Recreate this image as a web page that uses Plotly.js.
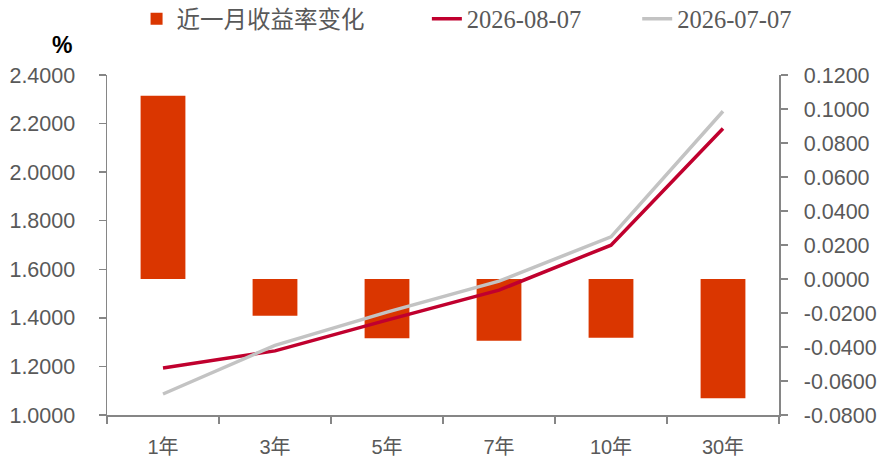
<!DOCTYPE html>
<html>
<head>
<meta charset="utf-8">
<script src="https://cdn.plot.ly/plotly-3.0.1.min.js"></script>
<style>html,body{margin:0;padding:0;background:#fff;}#chart{width:885px;height:465px;}</style>
</head>
<body>
<div id="chart"></div>
<script>
const categories = ['1年', '3年', '5年', '7年', '10年', '30年'];
const changeValues = [0.1078, -0.0216, -0.0349, -0.0363, -0.0345, -0.0702];
const yield0807 = [1.1934, 1.2640, 1.3908, 1.5142, 1.6994, 2.1795];
const yield0707 = [1.0864, 1.2870, 1.4237, 1.5513, 1.7335, 2.2507];
const leftTickVals = [1.0, 1.2, 1.4, 1.6, 1.8, 2.0, 2.2, 2.4];
const leftTickText = ['1.0000', '1.2000', '1.4000', '1.6000', '1.8000', '2.0000', '2.2000', '2.4000'];
const rightTickVals = [-0.08, -0.06, -0.04, -0.02, 0, 0.02, 0.04, 0.06, 0.08, 0.10, 0.12];
const rightTickText = ['-0.0800', '-0.0600', '-0.0400', '-0.0200', '0.0000', '0.0200', '0.0400', '0.0600', '0.0800', '0.1000', '0.1200'];

const traces = [
  {
    type: 'bar', name: '近一月收益率变化', x: categories, y: changeValues,
    yaxis: 'y', marker: {color: '#DA3600'}, width: 0.4, legend: 'legend'
  },
  {
    type: 'scatter', mode: 'lines', name: '2026-08-07', x: categories, y: yield0807,
    yaxis: 'y2', line: {color: '#C0002E', width: 3.5}, legend: 'legend2'
  },
  {
    type: 'scatter', mode: 'lines', name: '2026-07-07', x: categories, y: yield0707,
    yaxis: 'y2', line: {color: '#C3C3C3', width: 3.5}, legend: 'legend3'
  }
];

const tickFont = {family: 'Liberation Sans, Arial, sans-serif', size: 21.5, color: '#595959'};
const legendBase = {
  orientation: 'h', xanchor: 'left', y: 1.165, yanchor: 'middle',
  bgcolor: 'rgba(0,0,0,0)', borderwidth: 0
};

const layout = {
  width: 885, height: 465,
  margin: {l: 107, r: 106, t: 75, b: 50, autoexpand: false},
  paper_bgcolor: '#fff', plot_bgcolor: '#fff',
  showlegend: true,
  barmode: 'overlay',
  legend: Object.assign({}, legendBase, {
    x: 0.044,
    font: {family: 'Noto Sans CJK SC, sans-serif', size: 23.5, color: '#595959'}
  }),
  legend2: Object.assign({}, legendBase, {
    x: 0.476,
    font: {family: 'Liberation Serif, Times New Roman, serif', size: 24.5, color: '#595959'}
  }),
  legend3: Object.assign({}, legendBase, {
    x: 0.789,
    font: {family: 'Liberation Serif, Times New Roman, serif', size: 24.5, color: '#595959'}
  }),
  xaxis: {
    type: 'category', range: [-0.5, 5.5],
    showline: true, linecolor: '#868686', linewidth: 2,
    ticks: 'outside', tickson: 'boundaries', ticklen: 7, tickcolor: '#868686', tickwidth: 1.5,
    tickfont: {family: 'Liberation Sans, Noto Sans CJK SC, sans-serif', size: 20, color: '#595959'},
    ticklabelstandoff: 13,
    showgrid: false, zeroline: false, fixedrange: true
  },
  yaxis: {
    side: 'right', range: [-0.08, 0.12],
    tickvals: rightTickVals, ticktext: rightTickText,
    showline: true, linecolor: '#868686', linewidth: 1.5,
    ticks: 'outside', ticklen: 7, tickcolor: '#868686', tickwidth: 1.5,
    tickfont: tickFont, ticklabelstandoff: 12,
    showgrid: false, zeroline: false, fixedrange: true
  },
  yaxis2: {
    overlaying: 'y', side: 'left', range: [1.0, 2.4],
    tickvals: leftTickVals, ticktext: leftTickText,
    showline: true, linecolor: '#868686', linewidth: 1.5,
    ticks: 'outside', ticklen: 7, tickcolor: '#868686', tickwidth: 1.5,
    tickfont: tickFont, ticklabelstandoff: 19,
    showgrid: false, zeroline: false, fixedrange: true
  },
  annotations: [{
    text: '<b>%</b>', xref: 'paper', yref: 'paper', x: -0.067, y: 1.087,
    xanchor: 'center', yanchor: 'middle', showarrow: false,
    font: {family: 'Liberation Sans, Arial, sans-serif', size: 23, color: '#000'}
  }]
};

Plotly.newPlot('chart', traces, layout, {displayModeBar: false, staticPlot: true});
</script>
</body>
</html>
